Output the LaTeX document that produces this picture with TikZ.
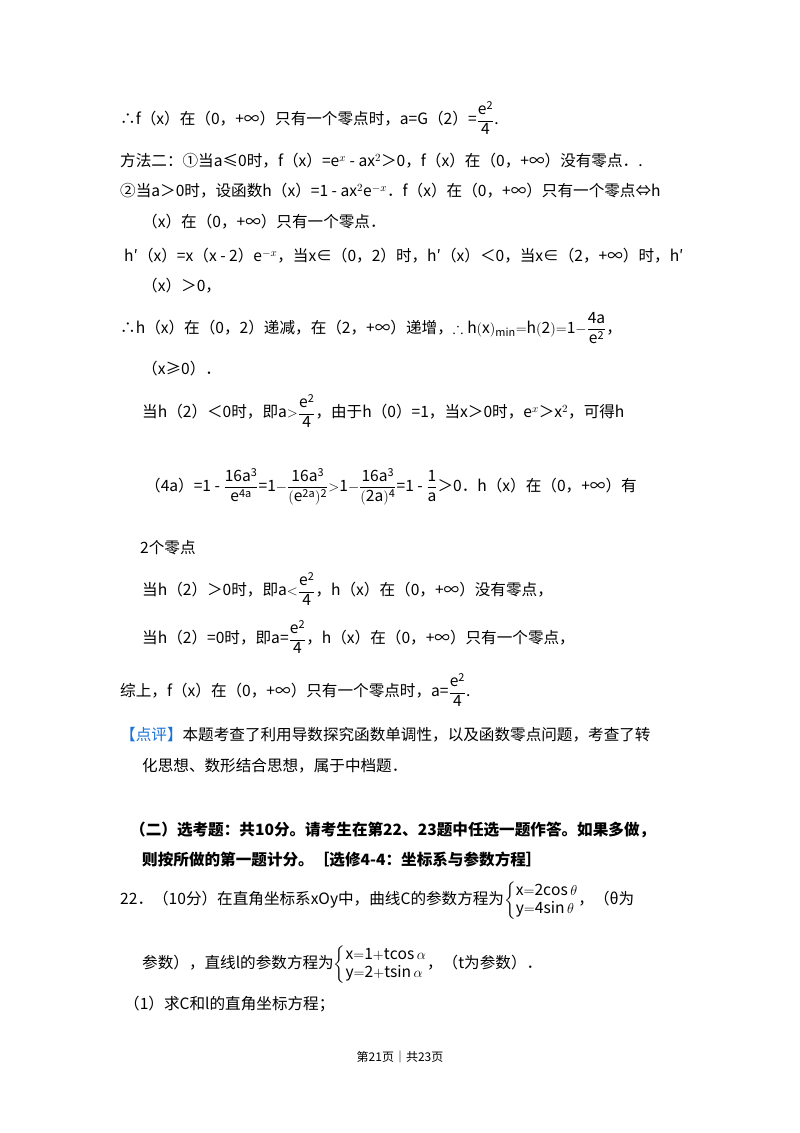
\documentclass[tikz,border=0pt]{standalone}
\usepackage{amsmath,amssymb}
\usepackage{fontspec}
\setmainfont{Noto Sans CJK SC}
\begin{document}
\begin{tikzpicture}[x=1pt,y=-1pt,
  ln/.style={anchor=west,inner sep=0pt,font=\fontsize{15.6}{18}\selectfont},
  ft/.style={anchor=center,inner sep=0pt,font=\fontsize{12}{14}\selectfont}]
\useasboundingbox[fill=white] (0,0) rectangle (800,1133);
\newcommand{\fr}[2]{$\dfrac{\mathrm{#1}}{\mathrm{#2}}$}
\node[ln] (l1) at (120,118) {∴f（x）在（0，+∞）只有一个零点时，a=G（2）=\fr{e^2}{4}.};
\node[ln] (l2) at (120,161) {方法二：①当a≤0时，f（x）=e$^{x}$ - ax$^{2}$＞0，f（x）在（0，+∞）没有零点．.};
\node[ln] (l3) at (120,191) {②当a＞0时，设函数h（x）=1 - ax$^{2}$e$^{-x}$．f（x）在（0，+∞）只有一个零点⇔h};
\node[ln] (l4) at (142,222) {（x）在（0，+∞）只有一个零点．};
\node[ln] (l5) at (124,256) {h′（x）=x（x - 2）e$^{-x}$，当x∈（0，2）时，h′（x）＜0，当x∈（2，+∞）时，h′};
\node[ln] (l6) at (142,286) {（x）＞0，};
\node[ln] (l7) at (120,328) {∴h（x）在（0，2）递减，在（2，+∞）递增，$\therefore\mathrm{h(x)_{min}{=}h(2){=}1{-}}\dfrac{\mathrm{4a}}{\mathrm{e^2}}$，};
\node[ln] (l8) at (142,369) {（x≥0）．};
\node[ln] (l9) at (142,411) {当h（2）＜0时，即a$>$\fr{e^2}{4}，由于h（0）=1，当x＞0时，e$^{x}$＞x$^{2}$，可得h};
\node[ln] (l10) at (145,487) {（4a）=1 - \fr{16a^3}{e^{4a}}=$\mathrm{1{-}}\dfrac{\mathrm{16a^3}}{\mathrm{(e^{2a})^2}}{>}\mathrm{1{-}}\dfrac{\mathrm{16a^3}}{\mathrm{(2a)^4}}$=1 - \fr{1}{a}＞0．h（x）在（0，+∞）有};
\node[ln] (l11) at (140,548) {2个零点};
\node[ln] (l12) at (142,589) {当h（2）＞0时，即a$<$\fr{e^2}{4}，h（x）在（0，+∞）没有零点，};
\node[ln] (l13) at (142,637) {当h（2）=0时，即a=\fr{e^2}{4}，h（x）在（0，+∞）只有一个零点，};
\node[ln] (l14) at (120,690) {综上，f（x）在（0，+∞）只有一个零点时，a=\fr{e^2}{4}.};
\node[ln] (l15) at (120,735) {\textcolor[rgb]{0.1,0.45,0.85}{【点评】}本题考查了利用导数探究函数单调性，以及函数零点问题，考查了转};
\node[ln] (l16) at (142,766) {化思想、数形结合思想，属于中档题．};
\node[ln,font=\fontsize{15.6}{18}\selectfont\bfseries] (l17) at (130,830) {（二）选考题：共10分。请考生在第22、23题中任选一题作答。如果多做，};
\node[ln,font=\fontsize{15.6}{18}\selectfont\bfseries] (l18) at (142,860) {则按所做的第一题计分。［选修4-4：坐标系与参数方程］};
\node[ln] (l19) at (120,901) {22．（10分）在直角坐标系xOy中，曲线C的参数方程为$\left\{\begin{array}{@{}l@{}}\mathrm{x{=}2cos}\,\theta\\ \mathrm{y{=}4sin}\,\theta\end{array}\right.$，（θ为};
\node[ln] (l20) at (142,965) {参数），直线l的参数方程为$\left\{\begin{array}{@{}l@{}}\mathrm{x{=}1{+}tcos}\,\alpha\\ \mathrm{y{=}2{+}tsin}\,\alpha\end{array}\right.$，（t为参数）．};
\node[ln] (l21) at (124,1004) {（1）求C和l的直角坐标方程；};
\node[ft] (pg) at (400,1057) {第21页｜共23页};
\end{tikzpicture}
\end{document}
